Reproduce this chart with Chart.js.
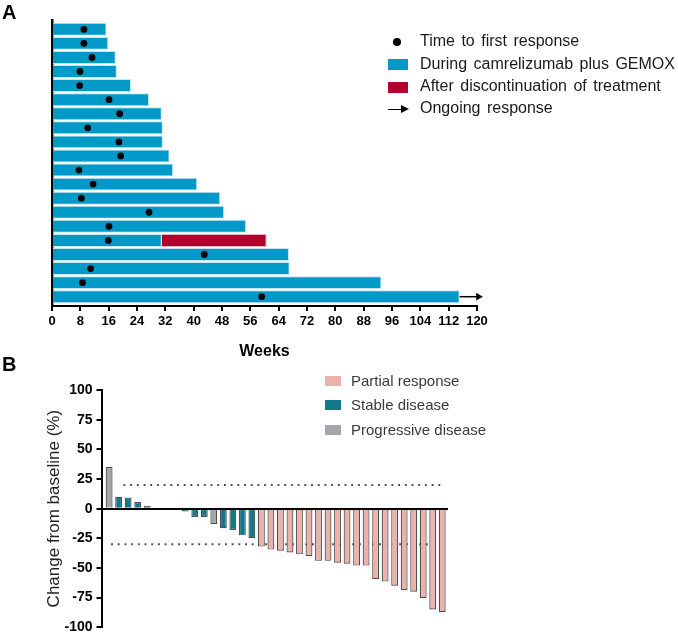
<!DOCTYPE html>
<html>
<head>
<meta charset="utf-8">
<script src="https://cdn.jsdelivr.net/npm/chart.js@4.4.0/dist/chart.umd.min.js"></script>
<style>
  body { margin: 0; background: #fff; font-family: "Liberation Sans", Arial, sans-serif; }
  #wrap { position: relative; width: 678px; height: 634px; overflow: hidden; }
  canvas { position: absolute; left: 0; }
  .panel { position: absolute; font-weight: bold; font-size: 20px; line-height: 20px; color: #000; }
  .leg { position: absolute; white-space: nowrap; line-height: 20px; }
  .legA { font-size: 16px; color: #1a1a1a; word-spacing: 2px; }
  .legB { font-size: 15px; color: #3a3a3a; }
  .sym { position: absolute; }
</style>
</head>
<body>
<div id="wrap">
  <canvas id="swim" width="678" height="365" style="top:0"></canvas>
  <canvas id="fall" width="678" height="294" style="top:340px"></canvas>

  <div class="panel" style="left:2px;top:2px">A</div>
  <div class="panel" style="left:2px;top:354px">B</div>

  <!-- legend A -->
  <div class="sym" style="left:393px;top:38px;width:8px;height:8px;border-radius:50%;background:#000"></div>
  <div class="sym" style="left:388px;top:59px;width:20px;height:11px;background:#0099c8"></div>
  <div class="sym" style="left:388px;top:82px;width:20px;height:11px;background:#b3002d"></div>
  <div class="sym" style="left:388px;top:108.5px;width:14px;height:1.5px;background:#000"></div>
  <div class="sym" style="left:401px;top:105px;width:0;height:0;border-top:4px solid transparent;border-bottom:4px solid transparent;border-left:8px solid #000"></div>
  <div class="leg legA" style="left:420px;top:31px">Time to first response</div>
  <div class="leg legA" style="left:420px;top:54px">During camrelizumab plus GEMOX</div>
  <div class="leg legA" style="left:420px;top:76px">After discontinuation of treatment</div>
  <div class="leg legA" style="left:420px;top:98px">Ongoing response</div>

  <!-- legend B -->
  <div class="sym" style="left:325px;top:376px;width:16px;height:10px;background:#ebb2ad"></div>
  <div class="sym" style="left:325px;top:400px;width:16px;height:10px;background:#13788a"></div>
  <div class="sym" style="left:325px;top:425px;width:16px;height:10px;background:#a5a5ab"></div>
  <div class="leg legB" style="left:351px;top:371px">Partial response</div>
  <div class="leg legB" style="left:351px;top:395px">Stable disease</div>
  <div class="leg legB" style="left:351px;top:420px">Progressive disease</div>
</div>

<script>
// --- panel A : swimmer plot (weeks) ---
const patientsA = [0, 1, 2, 3, 4, 5, 6, 7, 8, 9, 10, 11, 12, 13, 14, 15, 16, 17, 18, 19];
const treatEnd = [15.4, 15.9, 18, 18.3, 22.3, 27.4, 31, 31.3, 31.3, 33.2, 34.2, 41, 47.5, 48.6, 54.8, 31, 66.9, 67.1, 93, 115.1];
const afterStop = [null, null, null, null, null, null, null, null, null, null, null, null, null, null, null, 60.6, null, null, null, null];
const firstResponse = [9, 9, 11.3, 7.9, 7.8, 16.1, 19.1, 10.1, 18.9, 19.4, 7.6, 11.6, 8.3, 27.4, 16.1, 15.9, 43, 10.9, 8.6, 59.2];
const ongoingTo = [null, null, null, null, null, null, null, null, null, null, null, null, null, null, null, null, null, null, null, 120.4];
const weekTicks = [0, 8, 16, 24, 32, 40, 48, 56, 64, 72, 80, 88, 96, 104, 112, 120];

// --- panel B : waterfall (% change) ---
const patientsB = [1, 2, 3, 4, 5, 6, 7, 8, 9, 10, 11, 12, 13, 14, 15, 16, 17, 18, 19, 20, 21, 22, 23, 24, 25, 26, 27, 28, 29, 30, 31, 32, 33, 34, 35, 36];
const change = [35, 10, 9.5, 5.6, 2.5, 0, 0, -1, -2.5, -7, -7, -13, -16.5, -18, -22.5, -25,
  -32, -34.5, -35.5, -37, -38.5, -40, -44, -44, -45.5, -46.5, -48, -48, -59.5, -61.5, -65, -68.5, -70, -75.5, -85, -87];
const response = ['PD', 'SD', 'SD', 'SD', 'SD', 'SD', 'SD', 'SD', 'SD', 'SD', 'SD', 'PD', 'SD', 'SD', 'SD', 'SD',
  'PR', 'PR', 'PR', 'PR', 'PR', 'PR', 'PR', 'PR', 'PR', 'PR', 'PR', 'PR', 'PR', 'PR', 'PR', 'PR', 'PR', 'PR', 'PR', 'PR'];
const pctTicks = [-100, -75, -50, -25, 0, 25, 50, 75, 100];
const pdCut = 20, prCut = -30;

const FONT = '"Liberation Sans", Arial, sans-serif';
const COLORS = { PR: '#ebb2ad', SD: '#13788a', PD: '#a5a5ab' };

// swimmer
const swimBars = [];
treatEnd.forEach((v, i) => swimBars.push({ x: [0, v], y: patientsA[i] }));
const redBars = [];
afterStop.forEach((v, i) => { if (v != null) redBars.push({ x: [treatEnd[i], v], y: patientsA[i] }); });
const arrows = [];
ongoingTo.forEach((v, i) => { if (v != null) arrows.push({ x: treatEnd[i], y: patientsA[i] }, { x: v, y: patientsA[i] }); });

new Chart(document.getElementById('swim'), {
  type: 'bar',
  data: {
    datasets: [
      {
        type: 'scatter', data: firstResponse.map((v, i) => ({ x: v, y: patientsA[i] })),
        pointRadius: 3.4, backgroundColor: '#000', borderWidth: 0, clip: false, order: 0
      },
      {
        type: 'line', data: arrows, borderColor: '#000', borderWidth: 1.5,
        pointRadius: [0, 4.5], pointStyle: 'triangle', pointRotation: 90,
        pointBackgroundColor: '#000', pointBorderWidth: 0, clip: false, order: 0
      },
      {
        data: redBars, backgroundColor: '#b3002d', borderColor: '#e9b3c0', borderWidth: 1,
        grouped: false, barPercentage: 0.92, categoryPercentage: 1, order: 1
      },
      {
        data: swimBars, backgroundColor: '#0099c8', borderColor: '#c4e6f1', borderWidth: 1,
        grouped: false, barPercentage: 0.92, categoryPercentage: 1, order: 2
      }
    ]
  },
  options: {
    indexAxis: 'y', responsive: false, animation: false, events: [],
    layout: { padding: { top: 20, right: 201, left: 0, bottom: 0 } },
    plugins: { legend: { display: false }, tooltip: { enabled: false } },
    scales: {
      x: {
        type: 'linear', min: 0, max: 120,
        afterBuildTicks: s => { s.ticks = weekTicks.map(v => ({ value: v })); },
        afterFit: s => { s.height = 59; s.paddingLeft = 0; s.paddingRight = 0; },
        grid: { drawOnChartArea: false, tickLength: 5, color: '#000', lineWidth: 2 },
        border: { color: '#000', width: 2 },
        ticks: { color: '#000', font: { family: FONT, size: 13, weight: 'bold' }, padding: 3, maxRotation: 0, autoSkip: false },
        title: { display: true, text: 'Weeks', color: '#000', font: { family: FONT, size: 16, weight: 'bold' }, padding: { top: 4, bottom: 4 } }
      },
      y: {
        type: 'linear', reverse: true, min: -0.66, max: 19.66, offset: false,
        afterFit: s => { s.width = 52; s.paddingTop = 0; s.paddingBottom = 0; },
        grid: { display: false },
        border: { color: '#000', width: 2.5 },
        ticks: { display: false }
      }
    }
  }
});

// waterfall
new Chart(document.getElementById('fall'), {
  type: 'bar',
  data: {
    datasets: [
      {
        type: 'line', data: [{ x: 2.5, y: pdCut }, { x: 36.1, y: pdCut }],
        borderColor: '#555', borderWidth: 2, borderDash: [2, 4.7], pointRadius: 0, order: 3
      },
      {
        type: 'line', data: [{ x: 1.2, y: prCut }, { x: 36.1, y: prCut }],
        borderColor: '#555', borderWidth: 2, borderDash: [2, 4.7], pointRadius: 0, order: 3
      },
      {
        data: change.map((v, i) => ({ x: patientsB[i], y: v })),
        backgroundColor: response.map(r => COLORS[r]),
        borderColor: '#4d4d4d', borderWidth: 1.2,
        barPercentage: 0.72, categoryPercentage: 1, order: 1
      }
    ]
  },
  options: {
    responsive: false, animation: false, events: [],
    layout: { padding: { top: 50, right: 231, left: 40, bottom: 6.7 } },
    plugins: { legend: { display: false }, tooltip: { enabled: false } },
    scales: {
      x: {
        type: 'linear', min: 0.2, max: 36.5, offset: false, position: { y: 0 },
        grid: { display: false },
        border: { color: '#000', width: 2 },
        ticks: { display: false }
      },
      y: {
        min: -100, max: 100,
        afterBuildTicks: s => { s.ticks = pctTicks.map(v => ({ value: v })); },
        afterFit: s => { s.width = 61.5; s.paddingTop = 0; s.paddingBottom = 0; },
        grid: { drawOnChartArea: false, tickLength: 5, color: '#000', lineWidth: 2 },
        border: { color: '#000', width: 2 },
        ticks: { color: '#000', font: { family: FONT, size: 14, weight: 'bold' }, padding: 4 },
        title: { display: true, text: 'Change from baseline (%)', color: '#222', font: { family: FONT, size: 17 }, padding: { top: 4, bottom: 4 } }
      }
    }
  }
});
</script>
</body>
</html>
